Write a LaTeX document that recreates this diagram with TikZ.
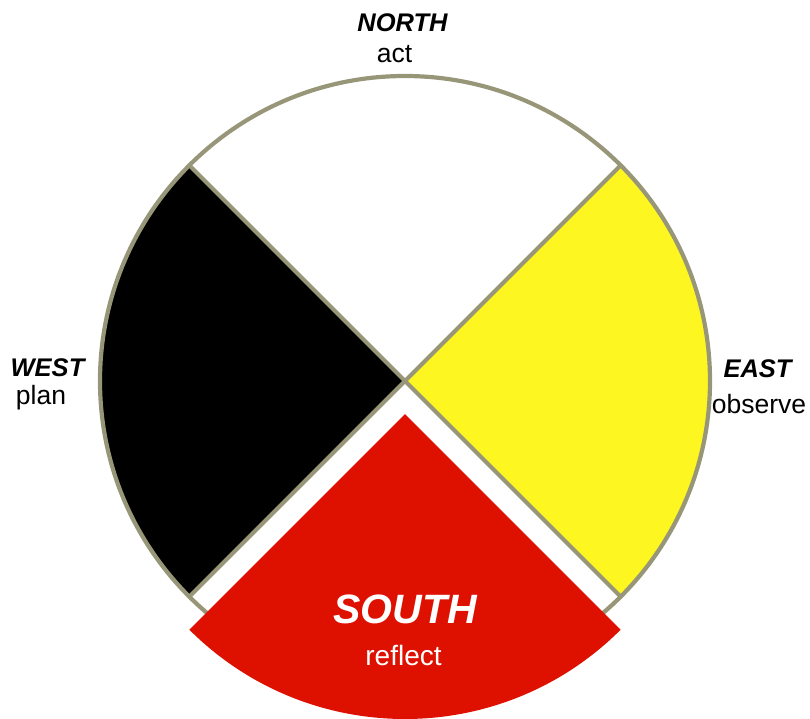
\documentclass[tikz,border=0pt]{standalone}
\usepackage{fontspec}
\setmainfont{Liberation Sans}
\definecolor{rimgray}{RGB}{152,150,120}
\definecolor{wheelyellow}{RGB}{253,246,32}
\definecolor{wheelred}{RGB}{222,17,0}
\begin{document}
\begin{tikzpicture}[x=1pt,y=1pt,
  rim/.style={draw=rimgray,line width=4.2pt},
  dirlabel/.style={anchor=base,inner sep=0pt,font=\fontsize{25.5}{25.5}\selectfont\bfseries\itshape},
  actlabel/.style={anchor=base,inner sep=0pt,font=\fontsize{26.5}{26.5}\selectfont}]
\useasboundingbox (-405,-337) rectangle (405,381);
% sectors
\fill[black] (0,0) -- (135:305) arc[start angle=135,end angle=225,radius=305] -- cycle;
\fill[wheelyellow] (0,0) -- (-45:305) arc[start angle=-45,end angle=45,radius=305] -- cycle;
% rim and dividing lines
\coordinate (c) at (0,0);
\coordinate (nw) at (135:305);
\coordinate (ne) at (45:305);
\coordinate (sw) at (225:305);
\coordinate (se) at (-45:305);
\draw[rim] (c) circle[radius=305];
\draw[rim] (nw) -- (se);
\draw[rim] (ne) -- (sw);
% exploded south sector
\coordinate (sapex) at (0,-33);
\fill[wheelred] (sapex) -- ++(225:305) arc[start angle=225,end angle=315,radius=305] -- cycle;
% labels
\node[dirlabel] (north) at (-2.5,349) {NORTH};
\node[actlabel] (act) at (-10.5,318) {act};
\node[dirlabel] (west) at (-357.5,5) {WEST};
\node[actlabel] (plan) at (-364,-23) {plan};
\node[dirlabel] (east) at (352.5,4) {EAST};
\node[actlabel] (observe) at (354,-32) {observe};
\node[anchor=base,inner sep=0pt,text=white,font=\fontsize{41}{41}\selectfont\bfseries\itshape] (south) at (0,-242) {SOUTH};
\node[actlabel,text=white,font=\fontsize{28}{28}\selectfont] (reflect) at (-1.5,-284) {reflect};
\end{tikzpicture}
\end{document}
